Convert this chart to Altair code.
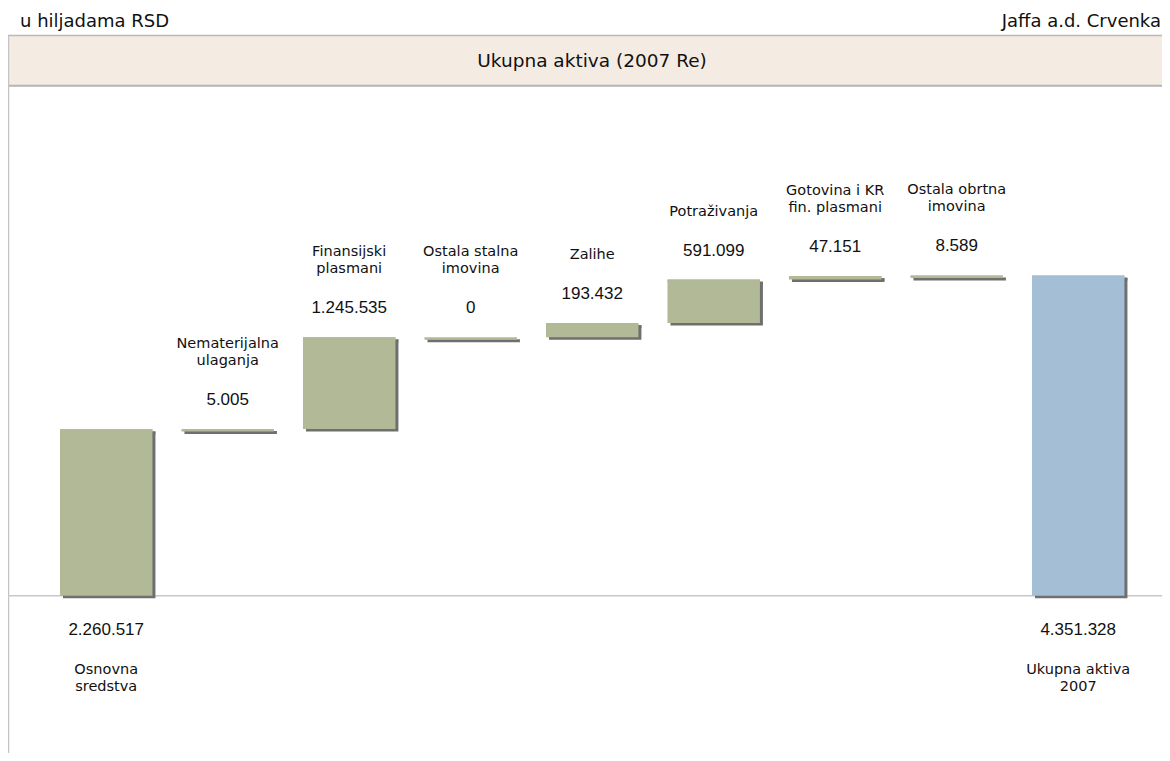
import altair as alt
import pandas as pd

# ---- data ----
categories = ["Osnovna sredstva", "Nematerijalna ulaganja", "Finansijski plasmani",
              "Ostala stalna imovina", "Zalihe", "Potraživanja",
              "Gotovina i KR fin. plasmani", "Ostala obrtna imovina", "Ukupna aktiva 2007"]
label_lines = ["Osnovna\nsredstva", "Nematerijalna\nulaganja", "Finansijski\nplasmani",
               "Ostala stalna\nimovina", "Zalihe", "Potraživanja",
               "Gotovina i KR\nfin. plasmani", "Ostala obrtna\nimovina", "Ukupna aktiva\n2007"]
values = [2260517, 5005, 1245535, 0, 193432, 591099, 47151, 8589, 4351328]
kinds = ["start", "step", "step", "step", "step", "step", "step", "step", "total"]

header_left = "u hiljadama RSD"
header_right = "Jaffa a.d. Crvenka"
chart_title = "Ukupna aktiva (2007 Re)"

# ---- waterfall table ----
rows = []
running = 0
for c, l, v, k in zip(categories, label_lines, values, kinds):
    if k == "step":
        start, end = running, running + v
        running = end
    else:
        start, end = 0, v
        running = v
    parts = l.split("\n")
    upper = parts[0] if len(parts) > 1 else ""
    lower = parts[-1]
    rows.append({"cat": c, "label": l, "upper": upper, "lower": lower,
                 "value": v, "start": start, "end": end,
                 "kind": k, "vlabel": f"{v:,}".replace(",", ".")})
df = pd.DataFrame(rows)

W, H = 1154, 745
GREEN, BLUE, SHADOW = "#B2B996", "#A3BED5", "#6F6F6F"
CAT_FONT = "DejaVu Sans"
VAL_FONT = "Liberation Sans"
INK = "#111111"

xenc = alt.X("cat:N", sort=categories, axis=None,
             scale=alt.Scale(range=[37.45, 1130.95], paddingInner=0.239, paddingOuter=0.1195))
yscale = alt.Scale(domain=[-2137000, 7985000], nice=False, zero=False)
y_end = alt.Y("end:Q", scale=yscale, axis=None)
y_start = alt.Y("start:Q", scale=yscale, axis=None)
color = alt.Color("kind:N", legend=None,
                  scale=alt.Scale(domain=["start", "step", "total"], range=[GREEN, GREEN, BLUE]))

base = alt.Chart(df)
one = pd.DataFrame({"t": [0]})

# decorations: header band, borders, baseline
band = alt.Chart(one).mark_rect(fill="#F4ECE2").encode(
    x=alt.value(0), x2=alt.value(W), y=alt.value(27.5), y2=alt.value(77.5))
band_top = alt.Chart(one).mark_rule(color="#B8B8B8", strokeWidth=1.5).encode(
    x=alt.value(0), x2=alt.value(W), y=alt.value(27.5))
band_bot = alt.Chart(one).mark_rule(color="#B4B4B4", strokeWidth=2).encode(
    x=alt.value(0), x2=alt.value(W), y=alt.value(77.7))
left_line = alt.Chart(one).mark_rule(color="#C4C4C4", strokeWidth=1.5).encode(
    x=alt.value(0.5), y=alt.value(27.5), y2=alt.value(H))
baseline = base.transform_filter(alt.datum.kind == "start").mark_rule(
    color="#C8C8C8", strokeWidth=1.5).encode(
    y=y_start, x=alt.value(0), x2=alt.value(W))

# bars with drop shadow
shadow = base.mark_bar(color=SHADOW, xOffset=3, yOffset=2.5, y2Offset=2.5).encode(
    x=xenc, y=y_end, y2="start:Q")
shadow_strip = base.mark_bar(color=SHADOW, xOffset=3, yOffset=2, y2Offset=5).encode(
    x=xenc, y=y_end, y2=alt.Y2("end:Q"))
bars = base.mark_bar().encode(x=xenc, y=y_end, y2="start:Q", color=color)
strip = base.mark_bar(y2Offset=2.5).encode(x=xenc, y=y_end, y2=alt.Y2("end:Q"), color=color)

steps = base.transform_filter(alt.datum.kind == "step")
ends = base.transform_filter(alt.datum.kind != "step")

# labels above step bars
step_vals = steps.mark_text(font=VAL_FONT, fontSize=17, baseline="middle", dy=-29,
                            color=INK).encode(x=xenc, y=y_end, text="vlabel:N")
step_lower = steps.mark_text(font=CAT_FONT, fontSize=14.5, baseline="middle", dy=-68,
                             color=INK).encode(x=xenc, y=y_end, text="lower:N")
step_upper = steps.mark_text(font=CAT_FONT, fontSize=14.5, baseline="middle", dy=-85,
                             color=INK).encode(x=xenc, y=y_end, text="upper:N")

# labels below the start / total bars
end_vals = ends.mark_text(font=VAL_FONT, fontSize=17, baseline="middle", dy=34,
                          color=INK).encode(x=xenc, y=y_start, text="vlabel:N")
end_cats = ends.mark_text(font=CAT_FONT, fontSize=14.5, baseline="top", dy=67, lineBreak="\n",
                          lineHeight=17, color=INK).encode(x=xenc, y=y_start, text="label:N")

# header texts
t_left = alt.Chart(pd.DataFrame({"t": [header_left]})).mark_text(
    font=CAT_FONT, fontSize=18, align="left", baseline="alphabetic", color=INK).encode(
    x=alt.value(12), y=alt.value(19), text="t:N")
t_right = alt.Chart(pd.DataFrame({"t": [header_right]})).mark_text(
    font=CAT_FONT, fontSize=18, align="right", baseline="alphabetic", color=INK).encode(
    x=alt.value(W - 1), y=alt.value(19), text="t:N")
t_title = alt.Chart(pd.DataFrame({"t": [chart_title]})).mark_text(
    font=CAT_FONT, fontSize=18.5, align="center", baseline="middle", color=INK).encode(
    x=alt.value(584), y=alt.value(53), text="t:N")

chart = alt.layer(
    band, band_top, band_bot, left_line, baseline,
    shadow, shadow_strip, bars, strip,
    step_vals, step_lower, step_upper, end_vals, end_cats,
    t_left, t_right, t_title,
).properties(
    width=W, height=H,
    autosize=alt.AutoSizeParams(type="none"),
    padding=0,
).configure_view(stroke=None)

chart.save("out.html", embed_options={"renderer": "svg", "actions": False})
